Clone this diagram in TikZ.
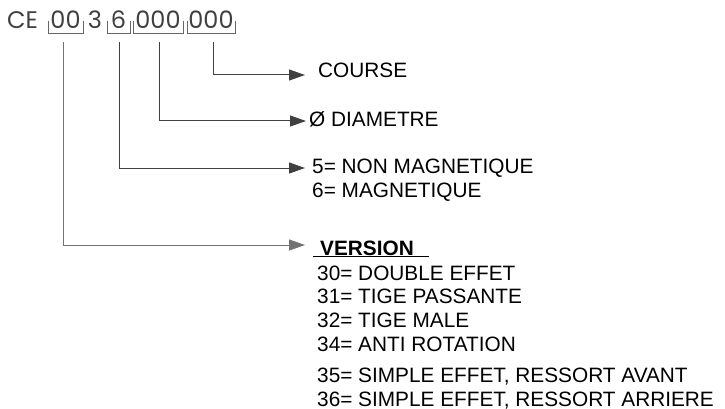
\documentclass[tikz,border=0pt]{standalone}
\usepackage{fontspec}
\setmainfont{Liberation Sans}
\newfontfamily\hdrfont{Poppins}
\usetikzlibrary{arrows.meta,positioning}
\tikzset{
	codetext/.style={font=\hdrfont\fontsize{24}{27}\selectfont, text=black!75, inner sep=0pt, anchor=base}
}
\tikzset{
	bracketline/.style={line width=0.6pt, draw=black!60}
}
\tikzset{
	leader/.style={line width=1pt, draw=black!75, -{Triangle[length=16pt,width=11pt]}}
}
\tikzset{
	itemtext/.style={font=\fontsize{20.8}{23}\selectfont, inner sep=0pt, anchor=base west}
}

\begin{document}
\begin{tikzpicture}[x=1pt, y=-1pt]
      \useasboundingbox (0,0) rectangle (725,409);
      % reference code
      \node[codetext, anchor=base west] (ce) at (7,29) {CE};
      \node[codetext] (gver) at (65.5,29) {00};
      \node[codetext] (three) at (95,29) {3};
      \node[codetext] (gmag) at (118.5,29) {6};
      \node[codetext] (gdia) at (158,29) {000};
      \node[codetext] (gcourse) at (211,29) {000};
      % brackets under the groups
      \foreach \a/\b in {48/83, 107/130, 133/183, 187/235}
        \draw[bracketline] (\a,21) -- (\a,33) -- (\b,33) -- (\b,21);
      % stem starts and arrow tips
      \coordinate (sver) at (63,42);
      \coordinate (smag) at (119,42);
      \coordinate (sdia) at (159,42);
      \coordinate (scourse) at (213,42);
      \coordinate (tcourse) at (305,75);
      \coordinate (tdia) at (306,121);
      \coordinate (tmag) at (305,168);
      \coordinate (tver) at (305,245);
      % labels
      \node[itemtext] (course) at (318,78) {COURSE};
      \node[itemtext] (dia) at (309,127) {Ø DIAMETRE};
      \node[itemtext] (nmag) at (312,173) {5= NON MAGNETIQUE};
      \node[itemtext] (mag) at (312,197) {6= MAGNETIQUE};
      \node[itemtext] (version) at (313,255) {\underline{\hspace{7pt}\textbf{VERSION}\hspace{15pt}}};
      \foreach \y/\t [count=\i] in {
        280/{30= DOUBLE EFFET}, 303/{31= TIGE PASSANTE},
        327/{32= TIGE MALE}, 351/{34= ANTI ROTATION},
        382/{35= SIMPLE EFFET, RESSORT AVANT},
        406/{36= SIMPLE EFFET, RESSORT ARRIERE}}
        \node[itemtext] (v\i) at (317,\y) {\t};
      % leaders
      \draw[leader] (scourse) |- (tcourse);
      \draw[leader] (sdia) |- (tdia);
      \draw[leader] (smag) |- (tmag);
      \draw[leader, draw=black!55] (sver) |- (tver);
    \end{tikzpicture}
\end{document}
